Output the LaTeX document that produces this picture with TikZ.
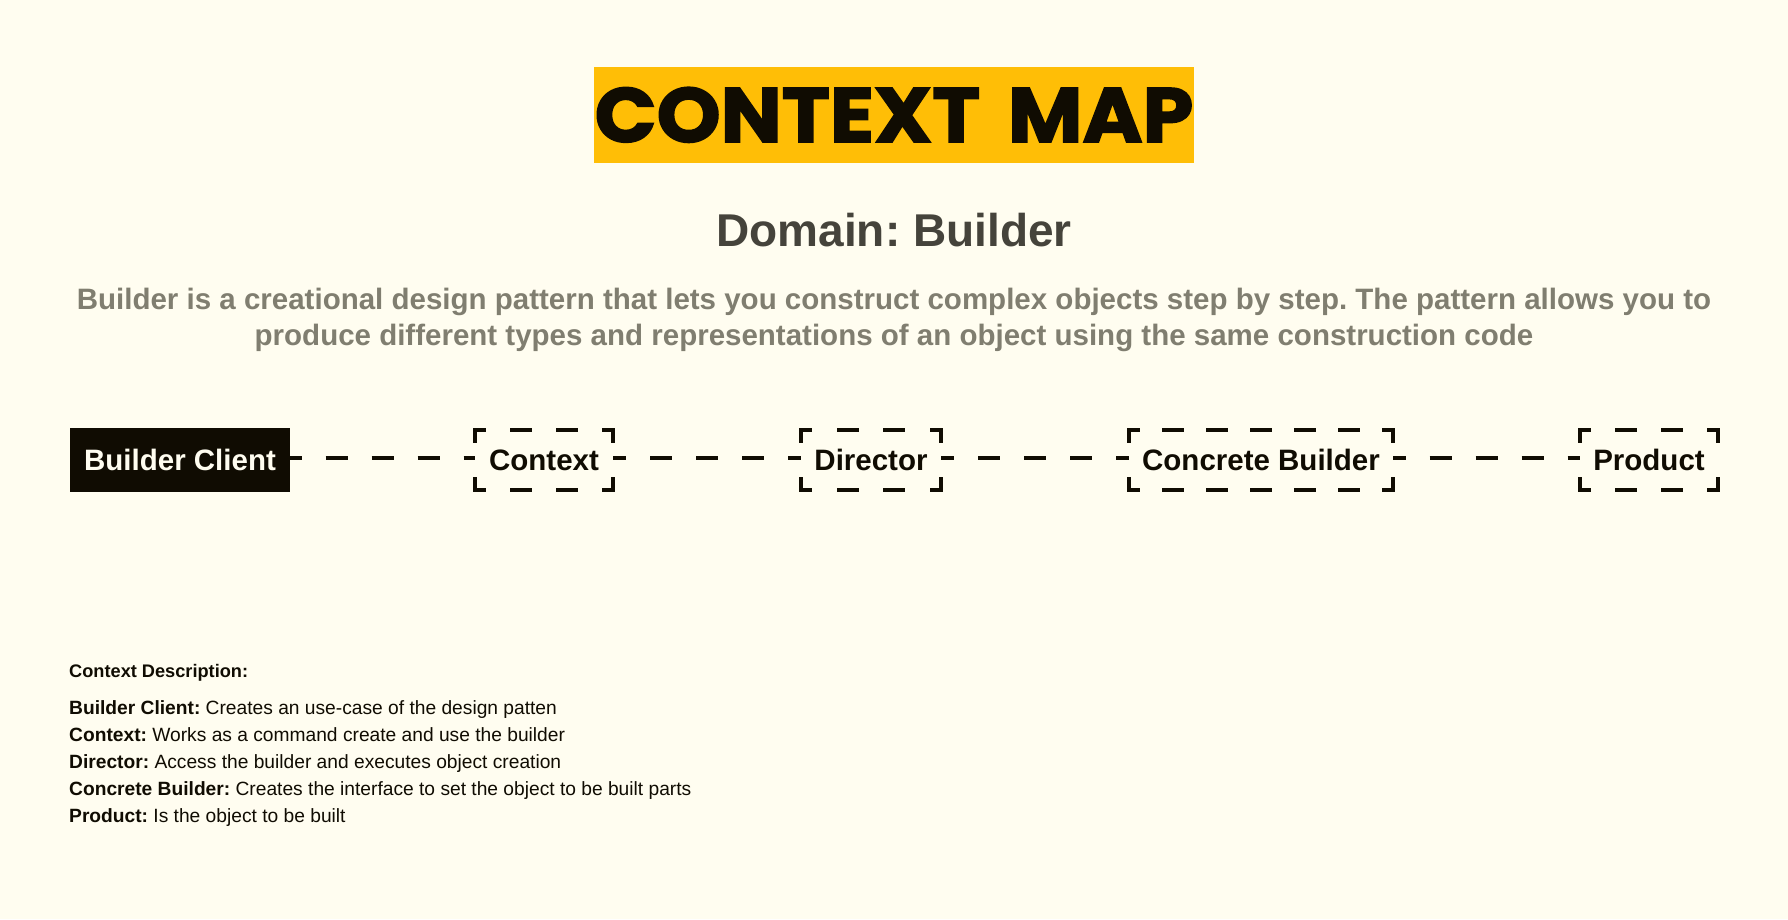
\documentclass[tikz,border=0pt]{standalone}
\usepackage{fontspec}
\setmainfont{Liberation Sans}
\newfontfamily\titlefont{Poppins}[FakeBold=2]
\definecolor{bgc}{HTML}{FFFDF0}
\definecolor{ink}{HTML}{100C02}
\definecolor{titlebg}{HTML}{FFBE06}
\definecolor{domainc}{HTML}{45433B}
\definecolor{subc}{HTML}{807E70}
\newcommand\bracketbox[2]{%
  \draw[hside=#2] (#1.north west) -- (#1.north east);
  \draw[hside=#2] (#1.south west) -- (#1.south east);
  \draw[vside] (#1.north west) -- (#1.south west);
  \draw[vside] (#1.north east) -- (#1.south east);}
\tikzset{
  hside/.style={draw=ink, line width=4pt, line cap=rect, dash pattern=on 18pt off #1, dash phase=9pt},
  vside/.style={draw=ink, line width=4pt, line cap=rect, dash pattern=on 22pt off 38pt, dash phase=11pt},
  conn/.style={draw=ink, line width=4.2pt, dash pattern=on 22pt off 24pt, dash phase=#1},
  boxtext/.style={inner sep=0pt, outer sep=0pt, text height=21.5pt, text depth=0pt,
    font=\bfseries\fontsize{29.5}{36}\selectfont},
  solidbox/.style={boxtext, fill=ink, text=bgc, minimum width=220pt, minimum height=64pt},
  dbox/.style={boxtext, text=ink, minimum height=60pt},
  descline/.style={anchor=base west, inner sep=0pt, text=ink, font=\fontsize{19.2}{23}\selectfont},
}
\begin{document}
\frenchspacing
\begin{tikzpicture}[x=1pt, y=-1pt]
\fill[bgc] (0,0) rectangle (1788,919);
\useasboundingbox (0,0) rectangle (1788,919);

\node[fill=titlebg, text=ink, minimum width=600pt, minimum height=96pt, inner sep=0pt,
  text height=54pt, text depth=0pt, font=\titlefont\bfseries\fontsize{77}{80}\selectfont]
  (title) at (894,115) {\scalebox{1.057}[1]{CONTEXT\hspace{9.8pt} MAP}};

\node[anchor=base, inner sep=0pt, text=domainc, font=\bfseries\fontsize{46}{50}\selectfont]
  (domain) at (894,246) {Domain: Builder};

\node[anchor=center, inner sep=0pt, text=subc, align=center,
  font=\bfseries\fontsize{29.5}{36}\selectfont] (sub) at (894,320)
  {Builder is a creational design pattern that lets you construct complex objects step by step. The pattern allows you to\\
   produce different types and representations of an object using the same construction code};

\node[solidbox] (client) at (180,460) {Builder Client};
\node[dbox, minimum width=138pt] (context) at (544,460) {Context};
\node[dbox, minimum width=140pt] (director) at (871,460) {Director};
\node[dbox, minimum width=264pt] (concrete) at (1261,460) {Concrete Builder};
\node[dbox, minimum width=138pt] (product) at (1649,460) {Product};

\bracketbox{context}{28pt}
\bracketbox{director}{28.67pt}
\bracketbox{concrete}{26pt}
\bracketbox{product}{28pt}

\draw[conn=10.5pt] ([yshift=2pt]client.east) -- ([yshift=2pt]context.west);
\draw[conn=9pt] ([yshift=2pt]context.east) -- ([yshift=2pt]director.west);
\draw[conn=9pt] ([yshift=2pt]director.east) -- ([yshift=2pt]concrete.west);
\draw[conn=9.5pt] ([yshift=2pt]concrete.east) -- ([yshift=2pt]product.west);

\node[anchor=base west, inner sep=0pt, text=ink, font=\bfseries\fontsize{18.2}{21}\selectfont]
  (deschead) at (69,677) {Context Description:};
\node[descline] (d1) at (69,714) {\textbf{Builder Client:} Creates an use-case of the design patten};
\node[descline] (d2) at (69,741) {\textbf{Context:} Works as a command create and use the builder};
\node[descline] (d3) at (69,768) {\textbf{Director:} Access the builder and executes object creation};
\node[descline] (d4) at (69,795) {\textbf{Concrete Builder:} Creates the interface to set the object to be built parts};
\node[descline] (d5) at (69,822) {\textbf{Product:} Is the object to be built};
\end{tikzpicture}
\end{document}
